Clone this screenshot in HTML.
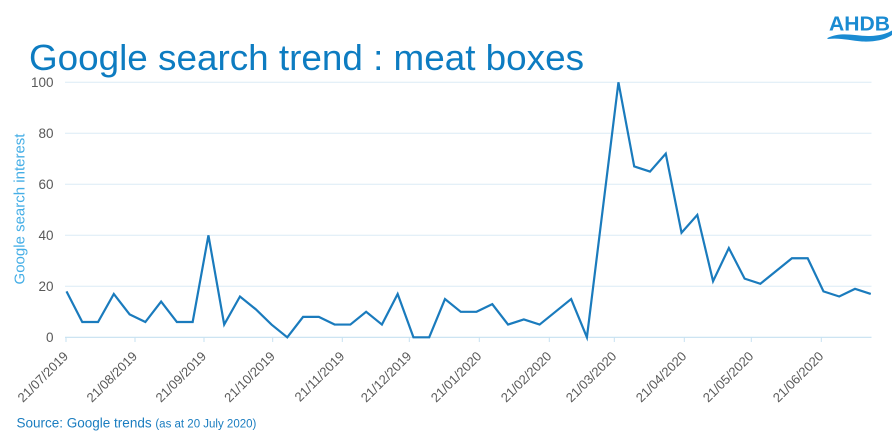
<!DOCTYPE html>
<html>
<head>
<meta charset="utf-8">
<style>
html,body{margin:0;padding:0;background:#fff;}
svg{display:block;}
text{font-family:"Liberation Sans",Arial,sans-serif;}
</style>
</head>
<body>
<svg width="896" height="438" viewBox="0 0 896 438" xmlns="http://www.w3.org/2000/svg">
  <rect width="896" height="438" fill="#fff"/>
  <!-- Title -->
  <text x="29" y="70" font-size="36" fill="#0d7cc1" textLength="555" lengthAdjust="spacingAndGlyphs">Google search trend : meat boxes</text>
  <!-- Logo -->
  <text x="829" y="30.5" font-size="20.5" font-weight="bold" fill="#1a8bd2" textLength="61" lengthAdjust="spacingAndGlyphs">AHDB</text>
  <path d="M827.5,38 C842,31 856,36.5 870,36 C880,35.5 887,33.5 892,30.5 L892,35 C885,40 875,42 862,41.5 C850,40.5 840,37.5 827.5,39 Z" fill="#1a8bd2"/>
  <!-- Gridlines -->
  <g stroke="#dcecf6" stroke-width="1">
    <line x1="65" y1="82.3" x2="871.5" y2="82.3"/>
    <line x1="65" y1="133.3" x2="871.5" y2="133.3"/>
    <line x1="65" y1="184.3" x2="871.5" y2="184.3"/>
    <line x1="65" y1="235.3" x2="871.5" y2="235.3"/>
    <line x1="65" y1="286.3" x2="871.5" y2="286.3"/>
  </g>
  <line x1="65" y1="337.3" x2="871.5" y2="337.3" stroke="#c6e1f1" stroke-width="1.2"/>
  <!-- ticks -->
  <g stroke="#c6e1f1" stroke-width="1">
    <line x1="66" y1="337" x2="66" y2="342"/>
    <line x1="135" y1="337" x2="135" y2="342"/>
    <line x1="204" y1="337" x2="204" y2="342"/>
    <line x1="272.7" y1="337" x2="272.7" y2="342"/>
    <line x1="342.3" y1="337" x2="342.3" y2="342"/>
    <line x1="409.3" y1="337" x2="409.3" y2="342"/>
    <line x1="479.3" y1="337" x2="479.3" y2="342"/>
    <line x1="549.3" y1="337" x2="549.3" y2="342"/>
    <line x1="614.3" y1="337" x2="614.3" y2="342"/>
    <line x1="684.3" y1="337" x2="684.3" y2="342"/>
    <line x1="751.3" y1="337" x2="751.3" y2="342"/>
    <line x1="821.3" y1="337" x2="821.3" y2="342"/>
  </g>
  <!-- Y labels -->
  <g font-size="13.5" fill="#595959" text-anchor="end">
    <text x="53.5" y="87">100</text>
    <text x="53.5" y="138">80</text>
    <text x="53.5" y="189">60</text>
    <text x="53.5" y="240">40</text>
    <text x="53.5" y="291">20</text>
    <text x="53.5" y="342">0</text>
  </g>
  <!-- Y title -->
  <text transform="translate(24.5,209) rotate(-90)" font-size="15" fill="#45aee6" text-anchor="middle">Google search interest</text>
  <!-- X labels -->
  <g font-size="13" fill="#595959" text-anchor="end">
    <text transform="translate(69,357) rotate(-45)">21/07/2019</text>
    <text transform="translate(138,357) rotate(-45)">21/08/2019</text>
    <text transform="translate(207,357) rotate(-45)">21/09/2019</text>
    <text transform="translate(275.7,357) rotate(-45)">21/10/2019</text>
    <text transform="translate(345.3,357) rotate(-45)">21/11/2019</text>
    <text transform="translate(412.3,357) rotate(-45)">21/12/2019</text>
    <text transform="translate(482.3,357) rotate(-45)">21/01/2020</text>
    <text transform="translate(552.3,357) rotate(-45)">21/02/2020</text>
    <text transform="translate(617.3,357) rotate(-45)">21/03/2020</text>
    <text transform="translate(687.3,357) rotate(-45)">21/04/2020</text>
    <text transform="translate(754.3,357) rotate(-45)">21/05/2020</text>
    <text transform="translate(824.3,357) rotate(-45)">21/06/2020</text>
  </g>
  <!-- Series -->
  <polyline fill="none" stroke="#1a7bbd" stroke-width="2.2" stroke-linejoin="miter" points="
66.5,291.4 82.27,322 98.04,322 113.81,293.95 129.58,314.35 145.35,322 161.12,301.6 176.89,322 192.66,322 208.43,235.3
224.2,324.55 239.97,296.5 255.74,309.25 271.51,324.55 287.28,337.3 303.05,316.9 318.82,316.9 334.59,324.55 350.36,324.55 366.13,311.8
381.9,324.55 397.67,293.95 413.44,337.3 429.21,337.3 444.98,299.05 460.75,311.8 476.52,311.8 492.29,304.15 508.06,324.55 523.83,319.45
539.6,324.55 555.37,311.8 571.14,299.05 586.91,337.3 602.68,209.8 618.45,82.3 634.22,166.45 649.99,171.55 665.76,153.7 681.53,232.75
697.3,214.9 713.07,281.2 728.84,248.05 744.61,278.65 760.38,283.75 776.15,271 791.92,258.25 807.69,258.25 823.46,291.4 839.23,296.5
855,288.85 870.77,293.95"/>
  <!-- Source -->
  <text x="16.5" y="427.5" fill="#1a7dc0"><tspan font-size="13.5">Source: Google trends </tspan><tspan font-size="11.5">(as at 20 July 2020)</tspan></text>
</svg>
</body>
</html>
